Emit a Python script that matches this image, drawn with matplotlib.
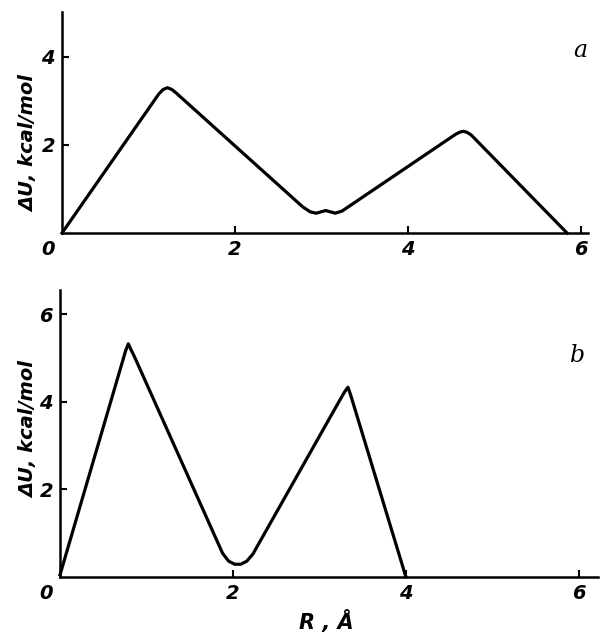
import matplotlib
matplotlib.use("Agg")
import matplotlib.pyplot as plt

# panel a: energy profile
r_a = [0, 1.12, 1.17, 1.22, 1.27, 1.32, 2.78, 2.87, 2.94, 3.05, 3.16, 3.24,
       4.55, 4.60, 4.64, 4.68, 4.73, 5.84]
du_a = [0, 3.16, 3.26, 3.30, 3.26, 3.18, 0.60, 0.48, 0.45, 0.51, 0.45, 0.50,
        2.24, 2.29, 2.31, 2.29, 2.23, 0]

# panel b
r_b = [0, 0.72, 0.76, 0.79, 0.82, 0.86, 1.88, 1.95, 2.02, 2.09, 2.16, 2.23,
       3.24, 3.29, 3.33, 3.36, 3.40, 4.0]
du_b = [0.05, 4.90, 5.17, 5.32, 5.19, 5.03, 0.54, 0.36, 0.29, 0.29, 0.36, 0.52,
        4.05, 4.22, 4.33, 4.16, 3.90, 0]

xticks = [2, 4, 6]
yticks_a = [2, 4]
yticks_b = [2, 4, 6]

fig = plt.figure(figsize=(6.05, 6.34), dpi=100)
ax1 = fig.add_axes([0.1025, 0.6325, 0.869, 0.3486])
ax2 = fig.add_axes([0.0992, 0.090, 0.889, 0.4527])

tick_font = dict(fontsize=14, fontstyle='italic', fontweight='bold')

def style(ax, xmax, ymax, yticks):
    ax.set_xlim(0, xmax)
    ax.set_ylim(0, ymax)
    for s in ['top', 'right']:
        ax.spines[s].set_visible(False)
    for s in ['left', 'bottom']:
        ax.spines[s].set_linewidth(1.8)
    ax.set_xticks(xticks)
    ax.set_yticks(yticks)
    ax.set_xticklabels([str(t) for t in xticks], **tick_font)
    ax.set_yticklabels([str(t) for t in yticks], **tick_font)
    ax.tick_params(direction='in', length=5, width=1.5, pad=5)
    ax.annotate('0', xy=(0, 0), xycoords='data', xytext=(-5, -5),
                textcoords='offset points', ha='right', va='top', **tick_font)

style(ax1, 6.08, 5.02, yticks_a)
style(ax2, 6.22, 6.55, yticks_b)

ax1.plot(r_a, du_a, color='black', lw=2.3, solid_joinstyle='round', clip_on=False)
ax2.plot(r_b, du_b, color='black', lw=2.3, solid_joinstyle='round', clip_on=False)

lab_font = dict(fontsize=14, fontweight='bold', fontstyle='italic')
fig.text(0.047, 0.774, 'ΔU, kcal/mol', rotation=90, ha='center', va='center', **lab_font)
fig.text(0.047, 0.322, 'ΔU, kcal/mol', rotation=90, ha='center', va='center', **lab_font)
fig.text(0.539, 0.019, 'R , Å', ha='center', va='center', fontsize=15,
         fontweight='bold', fontstyle='italic')

fig.text(0.959, 0.921, 'a', family='DejaVu Serif', fontsize=17, fontstyle='italic',
         ha='center', va='center')
fig.text(0.954, 0.440, 'b', family='DejaVu Serif', fontsize=17, fontstyle='italic',
         ha='center', va='center')

fig.savefig('out.png', dpi=100)
